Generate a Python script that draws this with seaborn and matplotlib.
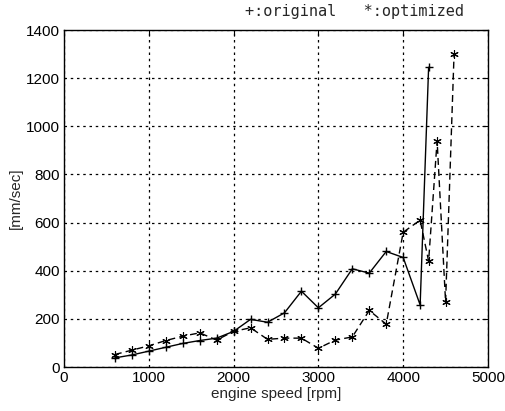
import numpy as np
import pandas as pd
import seaborn as sns
import matplotlib
matplotlib.use("Agg")
import matplotlib.pyplot as plt

# engine speed [rpm] and speed values [mm/sec]
rpm_original = [600, 800, 1000, 1200, 1400, 1600, 1800, 2000, 2200, 2400,
                2600, 2800, 3000, 3200, 3400, 3600, 3800, 4000, 4200, 4300]
val_original = [38, 50, 66, 82, 98, 110, 120, 148, 198, 186,
                225, 315, 246, 303, 408, 390, 480, 455, 258, 1245]

rpm_optimized = [600, 800, 1000, 1200, 1400, 1600, 1800, 2000, 2200, 2400,
                 2600, 2800, 3000, 3200, 3400, 3600, 3800, 4000, 4200, 4300,
                 4400, 4500, 4600]
val_optimized = [52, 70, 88, 110, 128, 142, 112, 148, 163, 115,
                 120, 120, 78, 112, 125, 235, 178, 560, 610, 440,
                 940, 270, 1300]

x_ticks = [0, 1000, 2000, 3000, 4000, 5000]
y_ticks = [0, 200, 400, 600, 800, 1000, 1200, 1400]

df_orig = pd.DataFrame({"rpm": rpm_original, "val": val_original})
df_opt = pd.DataFrame({"rpm": rpm_optimized, "val": val_optimized})

sns.set_style("white")
plt.rcParams["font.family"] = ["Liberation Sans", "DejaVu Sans"]

fig = plt.figure(figsize=(5.05, 4.11), dpi=100)
ax = fig.add_axes([0.1267, 0.107, 0.8396, 0.820])

sns.lineplot(data=df_orig, x="rpm", y="val", ax=ax, color="black", lw=1.0,
             sort=False)
ln = ax.lines[-1]
ln.set_marker("+")
ln.set_markersize(6)
ln.set_markeredgewidth(1.0)
ln.set_markeredgecolor("black")

sns.lineplot(data=df_opt, x="rpm", y="val", ax=ax, color="black", lw=1.0,
             sort=False)
ln = ax.lines[-1]
ln.set_linestyle((0, (5, 3)))
ln.set_marker((6, 2, 0))  # asterisk, as in the MATLAB original
ln.set_markersize(6)
ln.set_markeredgewidth(0.8)
ln.set_markeredgecolor("black")

ax.set_xlim(0, 5000)
ax.set_ylim(0, 1400)
ax.set_xticks(x_ticks)
ax.set_yticks(y_ticks)
ax.grid(True, color="black", linestyle=(0, (2, 3)), linewidth=0.9)
ax.tick_params(direction="in", length=4, labelsize=11, colors="black",
               top=True, right=True, pad=3)
for s in ax.spines.values():
    s.set_color("black")
    s.set_linewidth(1.0)

ax.set_xlabel("engine speed [rpm]", fontsize=11, labelpad=1)
ax.set_ylabel("[mm/sec]", fontsize=11, labelpad=2)

fig.text(0.485, 0.972, "+:original   *:optimized", family="DejaVu Sans Mono",
         fontsize=11, ha="left", va="center")

fig.savefig("out.png", dpi=100)
